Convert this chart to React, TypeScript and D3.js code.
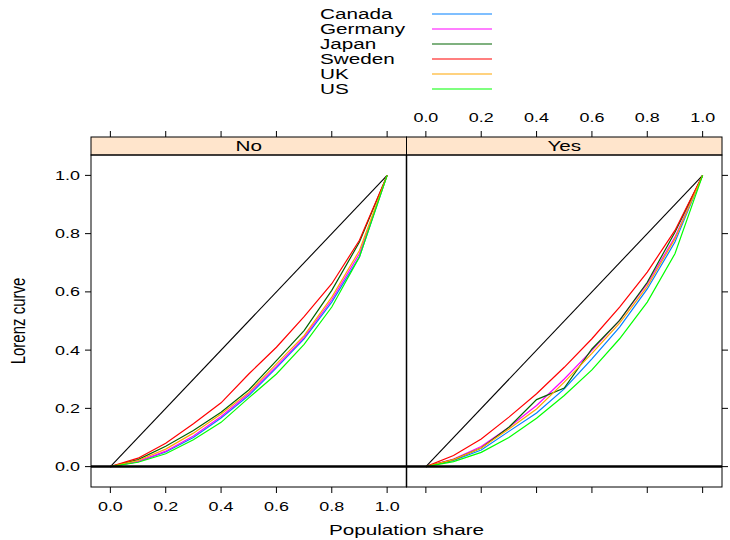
import React from "react";
import * as d3 from "d3";

const countries = ["Canada", "Germany", "Japan", "Sweden", "UK", "US"];
const colors = ["#0080ff", "#ff00ff", "#006400", "#ff0000", "#ffa500", "#00ff00"];
const panels = ["No", "Yes"];
const popShare = [0, 0.1, 0.2, 0.3, 0.4, 0.5, 0.6, 0.7, 0.8, 0.9, 1.0];
const tickValues = [0, 0.2, 0.4, 0.6, 0.8, 1.0];

// Lorenz curve values, panel "No"
const noCanada = [0, 0.017, 0.05, 0.1, 0.167, 0.244, 0.339, 0.439, 0.565, 0.72, 1];
const noGermany = [0, 0.017, 0.053, 0.105, 0.172, 0.25, 0.344, 0.444, 0.573, 0.731, 1];
const noJapan = [0, 0.024, 0.07, 0.124, 0.187, 0.263, 0.364, 0.467, 0.605, 0.771, 1];
const noSweden = [0, 0.029, 0.08, 0.147, 0.219, 0.318, 0.41, 0.515, 0.628, 0.777, 1];
const noUK = [0, 0.021, 0.06, 0.115, 0.181, 0.255, 0.353, 0.45, 0.582, 0.742, 1];
const noUS = [0, 0.015, 0.044, 0.092, 0.152, 0.236, 0.318, 0.42, 0.548, 0.72, 1];

// Lorenz curve values, panel "Yes"
const yesCanada = [0, 0.021, 0.057, 0.121, 0.184, 0.267, 0.37, 0.479, 0.61, 0.771, 1];
const yesGermany = [0, 0.026, 0.069, 0.135, 0.21, 0.301, 0.399, 0.502, 0.628, 0.788, 1];
const yesJapan = [0, 0.024, 0.064, 0.135, 0.23, 0.27, 0.404, 0.502, 0.633, 0.805, 1];
const yesSweden = [0, 0.038, 0.095, 0.17, 0.25, 0.341, 0.439, 0.548, 0.668, 0.811, 1];
const yesUK = [0, 0.024, 0.064, 0.129, 0.198, 0.29, 0.389, 0.493, 0.619, 0.782, 1];
const yesUS = [0, 0.017, 0.049, 0.1, 0.166, 0.244, 0.332, 0.439, 0.565, 0.731, 1];

const panelData = [
  [noCanada, noGermany, noJapan, noSweden, noUK, noUS],
  [yesCanada, yesGermany, yesJapan, yesSweden, yesUK, yesUS],
];

const FONT = "'Liberation Sans', Arial, Helvetica, sans-serif";
const SX = 1.38;

function T({ x, y, size, anchor = "start", children }: { x: number; y: number; size: number; anchor?: string; children: React.ReactNode }) {
  return (
    <text transform={`translate(${x},${y}) scale(${SX},1)`} dy="0.35em" textAnchor={anchor} fontSize={size} fill="black">
      {children}
    </text>
  );
}

export default function App() {
  const W = 730, H = 540;
  const panelTop = 155, panelBottom = 487;
  const stripTop = 137;
  const left0 = 91, panelW = 315.5;
  const yScale = d3.scaleLinear().domain([-0.07, 1.07]).range([panelBottom, panelTop]);
  const xScales = [0, 1].map((i) =>
    d3.scaleLinear().domain([-0.07, 1.07]).range([left0 + i * panelW, left0 + (i + 1) * panelW])
  );
  const line = (xs: d3.ScaleLinear<number, number>, vals: number[]) =>
    d3.line<number>().x((_, i) => xs(popShare[i])).y((v) => yScale(v))(vals) || "";

  const legendY0 = 14, legendDy = 15;

  return (
    <div style={{ position: "fixed", left: 0, top: 0, width: W, height: H, overflow: "hidden" }}>
      <svg width={W} height={H} style={{ display: "block", fontFamily: FONT }}>
        <rect width={W} height={H} fill="white" />
        {/* legend */}
        {countries.map((c, i) => (
          <g key={c}>
            <T x={320} y={legendY0 + i * legendDy} size={15}>{c}</T>
            <line x1={432} x2={492} y1={legendY0 + i * legendDy} y2={legendY0 + i * legendDy} stroke={colors[i]} strokeWidth={1.1} />
          </g>
        ))}
        {panels.map((p, pi) => {
          const xs = xScales[pi];
          const [x0, x1] = xs.range();
          return (
            <g key={p}>
              {/* strip */}
              <rect x={x0} y={stripTop} width={x1 - x0} height={panelTop - stripTop} fill="#ffe5cc" stroke="black" strokeWidth={1} />
              <T x={(x0 + x1) / 2} y={(stripTop + panelTop) / 2} size={15} anchor="middle">{p}</T>
              <clipPath id={`clip${pi}`}>
                <rect x={x0} y={panelTop} width={x1 - x0} height={panelBottom - panelTop} />
              </clipPath>
              <g clipPath={`url(#clip${pi})`}>
                <line x1={xs(0)} y1={yScale(0)} x2={xs(1)} y2={yScale(1)} stroke="black" strokeWidth={1.1} />
                {panelData[pi].map((vals, si) => (
                  <path key={si} d={line(xs, vals)} fill="none" stroke={colors[si]} strokeWidth={1.2} />
                ))}
                <line x1={x0} x2={x1} y1={yScale(0)} y2={yScale(0)} stroke="black" strokeWidth={2.5} />
              </g>
              <rect x={x0} y={panelTop} width={x1 - x0} height={panelBottom - panelTop} fill="none" stroke="black" strokeWidth={1} />
              {/* top ticks */}
              {tickValues.map((t) => (
                <line key={"tt" + t} x1={xs(t)} x2={xs(t)} y1={stripTop} y2={stripTop - 6} stroke="black" />
              ))}
              {pi === 1 && tickValues.map((t) => (
                <T key={"tl" + t} x={xs(t)} y={117} size={13} anchor="middle">{t.toFixed(1)}</T>
              ))}
              {/* bottom ticks */}
              {tickValues.map((t) => (
                <line key={"bt" + t} x1={xs(t)} x2={xs(t)} y1={panelBottom} y2={panelBottom + 6} stroke="black" />
              ))}
              {pi === 0 && tickValues.map((t) => (
                <T key={"bl" + t} x={xs(t)} y={506} size={13} anchor="middle">{t.toFixed(1)}</T>
              ))}
              {/* y ticks */}
              {pi === 0 && tickValues.map((t) => (
                <g key={"yl" + t}>
                  <line x1={x0} x2={x0 - 6} y1={yScale(t)} y2={yScale(t)} stroke="black" />
                  <T x={80} y={yScale(t)} size={13} anchor="end">{t.toFixed(1)}</T>
                </g>
              ))}
              {pi === 1 && tickValues.map((t) => (
                <line key={"yr" + t} x1={x1} x2={x1 + 6} y1={yScale(t)} y2={yScale(t)} stroke="black" />
              ))}
            </g>
          );
        })}
        <line x1={left0 + panelW} x2={left0 + panelW} y1={panelTop} y2={panelBottom} stroke="black" strokeWidth={1.5} />
        <T x={left0 + panelW} y={530} size={15} anchor="middle">Population share</T>
        <text transform={`translate(18,${(panelTop + panelBottom) / 2}) scale(${SX},1) rotate(-90)`} dy="0.35em" textAnchor="middle" fontSize={15}>Lorenz curve</text>
      </svg>
    </div>
  );
}
